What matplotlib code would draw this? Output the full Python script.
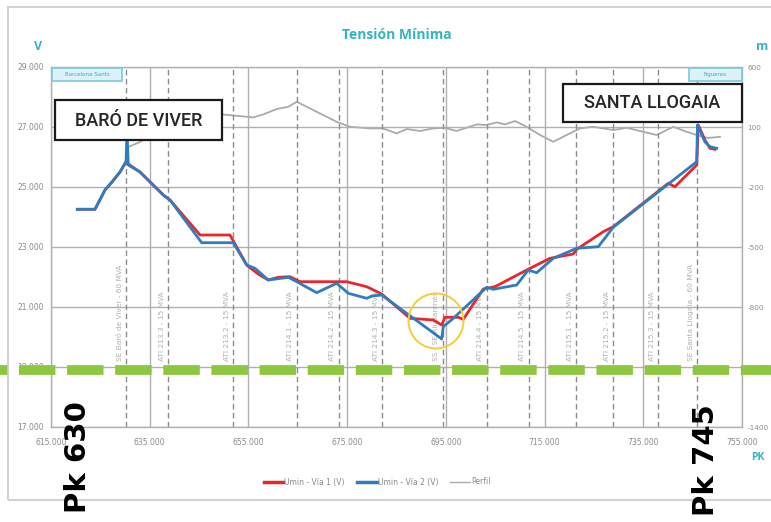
import matplotlib
matplotlib.use("Agg")
import matplotlib.pyplot as plt
from matplotlib.lines import Line2D
from matplotlib.patches import Ellipse, Rectangle

# ---------------- data ----------------
pk_via1 = [620.33, 623.91, 625.94, 627.36, 628.98, 630.20, 630.66, 633.03, 637.75, 639.11,
           645.19, 651.27, 654.65, 656.94, 659.02, 661.05, 663.42, 665.45, 674.91, 678.96,
           682.00, 687.73, 692.45, 694.16, 694.82, 697.52, 698.53, 702.58, 704.95, 711.38,
           716.10, 720.82, 721.51, 726.90, 728.92, 740.06, 741.42, 745.82, 746.14, 747.50,
           748.51, 749.53]
v_via1 = [24257, 24257, 24900, 25167, 25500, 25843, 25767, 25500, 24733, 24567,
          23400, 23400, 22400, 22100, 21900, 21990, 22010, 21843, 21843, 21677,
          21433, 20623, 20567, 20400, 20657, 20657, 20590, 21600, 21677, 22233,
          22623, 22767, 22923, 23510, 23677, 25123, 25010, 25733, 27067, 26567,
          26290, 26257]

pk_via2 = [620.33, 623.91, 625.94, 627.36, 628.98, 630.20, 630.40, 630.66, 633.03, 637.75,
           639.11, 645.53, 651.93, 654.65, 656.33, 659.02, 663.08, 664.78, 668.83, 672.88,
           675.23, 678.96, 680.03, 682.00, 694.16, 694.48, 696.51, 703.27, 704.61, 709.35,
           711.70, 713.40, 716.76, 721.51, 725.88, 728.92, 745.82, 745.98, 747.50, 748.51,
           749.87]
v_via2 = [24257, 24257, 24900, 25167, 25500, 25843, 26800, 25733, 25500, 24733,
          24567, 23143, 23143, 22400, 22290, 21900, 21990, 21843, 21477, 21790,
          21457, 21290, 21367, 21400, 19933, 20343, 20623, 21657, 21590, 21733,
          22233, 22143, 22623, 22957, 23010, 23657, 25843, 27067, 26500, 26343,
          26290]

pk_perfil = [630.20, 633.03, 637.08, 643.16, 649.58, 655.99, 658.01, 660.73, 663.08, 664.78,
             668.83, 672.88, 675.58, 679.63, 682.26, 685.04, 687.07, 689.76, 692.45, 694.82,
             697.19, 701.25, 703.27, 705.30, 706.98, 709.01, 711.38, 714.07, 716.77, 719.48,
             722.18, 724.87, 728.92, 731.64, 735.00, 737.71, 741.08, 743.79, 745.82, 748.11,
             750.54]
m_perfil = [-5, 25, 95, 145, 163, 148, 163, 190, 201, 226,
            176, 126, 101, 93, 93, 68, 90, 80, 93, 96,
            80, 113, 110, 123, 113, 130, 101, 60, 26, 60,
            93, 101, 85, 96, 76, 60, 101, 76, 60, 45,
            51]

station_pk = [630.2, 638.7, 651.9, 664.8, 673.3, 682.1, 694.4, 703.3, 711.8, 721.4,
              728.9, 738.0, 745.9]
station_names = ["SE Baró de Viver - 60 MVA", "ATI 213.3 - 15 MVA", "ATI 213.2 - 15 MVA",
                 "ATI 214.1 - 15 MVA", "ATI 214.2 - 15 MVA", "ATI 214.3 - 15 MVA",
                 "SS - SE Riudarenes", "ATI 214.4 - 15 MVA", "ATI 214.5 - 15 MVA",
                 "ATI 215.1 - 15 MVA", "ATI 215.2 - 15 MVA", "ATI 215.3 - 15 MVA",
                 "SE Santa Llogaia - 60 MVA"]

x_ticks = [615, 635, 655, 675, 695, 715, 735, 755]
x_tick_labels = ["615.000", "635.000", "655.000", "675.000", "695.000", "715.000", "735.000", "755.000"]
v_ticks = [17000, 19000, 21000, 23000, 25000, 27000, 29000]
v_tick_labels = ["17.000", "19.000", "21.000", "23.000", "25.000", "27.000", "29.000"]
m_ticks = [-1400, -1100, -800, -500, -200, 100, 400]
m_tick_labels = ["-1400", "-1100", "-800", "-500", "-200", "100", "600"]

legend_labels = ["Umin - Vía 1 (V)", "Umin - Vía 2 (V)", "Perfil"]

# ---------------- style ----------------
W, H = 771, 522
RED = "#E8262C"
BLUE = "#2F7DC0"
TEAL = "#33B5C1"
TICKC = "#8A8A8A"

fig = plt.figure(figsize=(W / 100, H / 100), dpi=100)
fig.patch.set_facecolor("white")


def fx(x):
    return x / W


def fy(y):
    return 1 - y / H


ax = fig.add_axes([fx(51), fy(427), (742 - 51) / W, (427 - 67) / H])
ax.set_xlim(615, 755)
ax.set_ylim(17000, 29000)
ax.set_xticks(x_ticks)
ax.set_xticklabels(x_tick_labels)
ax.set_yticks(v_ticks)
ax.set_yticklabels(v_tick_labels)
ax.tick_params(axis="both", length=0, labelsize=5.5, colors=TICKC)
ax.tick_params(axis="x", pad=8)
ax.tick_params(axis="y", pad=5)
ax.grid(True, color="#B0B0B0", lw=1.0)
for s in ax.spines.values():
    s.set_color("#B0B0B0")
    s.set_linewidth(1.0)
ax.set_axisbelow(True)

# station dashed lines and labels
for p, name in zip(station_pk, station_names):
    ax.axvline(p, color="#8C8C8C", lw=1.0, linestyle=(0, (4, 2.5)), zorder=1)
    ax.text(p - 0.7, 19200, name, rotation=90, ha="right", va="bottom",
            fontsize=5.3, color="#B0B0B0", zorder=1)

ax2 = ax.twinx()
ax2.set_ylim(-1400, 400)
ax2.set_yticks(m_ticks)
ax2.set_yticklabels(m_tick_labels)
ax2.tick_params(axis="y", length=0, labelsize=5.2, colors=TICKC, pad=4)
for s in ax2.spines.values():
    s.set_visible(False)

ax2.plot(pk_perfil, m_perfil, color="#AAAAAA", lw=1.3, zorder=2)

ax.set_zorder(ax2.get_zorder() + 1)
ax.patch.set_visible(False)
ax.plot(pk_via1, v_via1, color=RED, lw=2.0, zorder=4, solid_joinstyle="round")
ax.plot(pk_via2, v_via2, color=BLUE, lw=2.0, zorder=5, solid_joinstyle="round")

# title and axis names
fig.text(fx(397), fy(35), "Tensión Mínima", ha="center", va="center",
         fontsize=10, fontweight="bold", color=TEAL, family="Open Sans")
fig.text(fx(38), fy(46), "V", ha="center", va="center", fontsize=9,
         fontweight="bold", color=TEAL, family="Open Sans")
fig.text(fx(762), fy(46), "m", ha="center", va="center", fontsize=9,
         fontweight="bold", color=TEAL, family="Open Sans")
fig.text(fx(758), fy(458), "PK", ha="center", va="center", fontsize=7.5,
         fontweight="bold", color=TEAL, family="Open Sans")

# legend
handles = [Line2D([], [], color=RED, lw=2.5),
           Line2D([], [], color=BLUE, lw=2.5),
           Line2D([], [], color="#AAAAAA", lw=1.0)]
leg = fig.legend(handles, legend_labels, loc="center", bbox_to_anchor=(fx(377), fy(482)),
                 ncol=3, frameon=False, fontsize=5.5, handlelength=2.6,
                 handletextpad=0.1, columnspacing=1.6)
for t in leg.get_texts():
    t.set_color("#8A8A8A")

# outer border
fig.add_artist(Rectangle((fx(8), fy(500)), (776 - 8) / W, (500 - 7) / H,
                         transform=fig.transFigure, fill=False,
                         edgecolor="#D2D2D2", lw=1.5, zorder=0))


def box(x0, y0, x1, y1, face, edge, lw, z):
    fig.add_artist(Rectangle((fx(x0), fy(y1)), (x1 - x0) / W, (y1 - y0) / H,
                             transform=fig.transFigure, facecolor=face,
                             edgecolor=edge, lw=lw, zorder=z))


# small station boxes
box(52, 68, 122, 81, "#DDF2F7", "#7CCAD9", 1.2, 6)
fig.text(fx(87), fy(74.5), "Barcelona Sants", ha="center", va="center",
         fontsize=4.0, color="#4AA3C2", zorder=7)
box(689, 68, 742, 81, "#DDF2F7", "#7CCAD9", 1.2, 6)
fig.text(fx(715.5), fy(74.5), "Figueres", ha="center", va="center",
         fontsize=4.0, color="#4AA3C2", zorder=7)

# big name boxes
box(55, 100, 222, 140, "white", "#1A1A1A", 1.6, 8)
fig.text(fx(138.5), fy(121), "BARÓ DE VIVER", ha="center", va="center",
         fontsize=13, fontweight="medium", color="#262626", family="Roboto", zorder=9)
box(563, 84, 742, 122, "white", "#1A1A1A", 1.6, 8)
fig.text(fx(652.5), fy(103.5), "SANTA LLOGAIA", ha="center", va="center",
         fontsize=13, fontweight="medium", color="#262626", family="Roboto", zorder=9)

# yellow circle
fig.add_artist(Ellipse((fx(436), fy(321)), 55 / W, 55 / H, transform=fig.transFigure,
                       fill=False, edgecolor="#F3CD3A", lw=1.4, zorder=7))

# green dashed line
fig.add_artist(Line2D([0, 1], [fy(370), fy(370)], transform=fig.transFigure,
                      color="#8DC63F", lw=7, linestyle=(3.0, (3.75, 1.2)),
                      solid_capstyle="butt", dash_capstyle="butt", zorder=10))

# Pk labels
fig.text(fx(78), fy(457), "Pk 630", rotation=90, ha="center", va="center",
         fontsize=21, fontweight="bold", color="black", zorder=11)
fig.text(fx(706), fy(460), "Pk 745", rotation=90, ha="center", va="center",
         fontsize=21, fontweight="bold", color="black", zorder=11)

fig.savefig("out.png", dpi=100)
